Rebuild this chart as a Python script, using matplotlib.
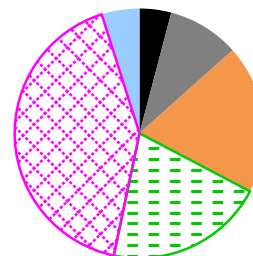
import matplotlib
matplotlib.use("Agg")
import matplotlib.pyplot as plt
import numpy as np

# slice shares (percent), clockwise from 12 o'clock
labels = ['black', 'gray', 'orange', 'green', 'magenta', 'lightblue']
shares = [4.1, 9.3, 19.3, 20.6, 41.8, 4.9]
colors = ['#000000', '#808080', '#f5974a', 'none', 'none', '#99ccff']
edges = ['none', 'none', 'none', '#00cc00', '#ff00ff', 'none']

plt.rcParams['lines.scale_dashes'] = False

W, H, DPI = 253, 256, 72
cx, cy, r = 139.5, 133.3, 124.8   # pie centre / radius in pixels

fig = plt.figure(figsize=(W / DPI, H / DPI), dpi=DPI)
ax = fig.add_axes([0, 0, 1, 1])

wedges, _ = ax.pie(shares, colors=colors, startangle=90, counterclock=False,
                   wedgeprops={'linewidth': 2.5})
for w, ec in zip(wedges, edges):
    w.set_edgecolor(ec)
    if ec == 'none':
        w.set_linewidth(0)

# dashed texture for the green slice
green = wedges[3]
row0, step, per = 148.3, 10.74, 21.3
for k in range(12):
    y = (cy - (row0 + step * k)) / r
    start_px = 144 - 7 * per - (per / 2 if k % 2 else 0)
    x0 = (start_px - cx) / r
    ln, = ax.plot([x0, 1.2], [y, y], color='#00cc00', lw=3,
                  linestyle=(0, (per / 2, per / 2)))
    ln.set_dash_capstyle('butt')
    ln.set_clip_path(green)
    ln.set_zorder(1.5)

# dotted diamond lattice for the magenta slice
mag = wedges[4]
sp = 22.0 / r
X0, Y0 = (23.3 - cx) / r, (cy - 113.3) / r     # one lattice crossing
dot_per = (sp / 2) * r * np.sqrt(2) / 3
dot_on = 3.0
xs = np.array([-1.3, 1.3])
d0 = (X0 + 1.3) * r * np.sqrt(2)
off = (dot_on / 2 - d0) % dot_per
for k in range(-30, 31):
    for sgn, c in ((1, Y0 - X0 + k * sp), (-1, Y0 + X0 + k * sp)):
        ln, = ax.plot(xs, sgn * xs + c, color='#ff00ff', lw=2.6,
                      linestyle=(off, (dot_on, dot_per - dot_on)))
        ln.set_dash_capstyle('butt')
        ln.set_clip_path(mag)
        ln.set_zorder(1.5)

green.set_zorder(2)
mag.set_zorder(2)

ax.set_aspect('auto')
ax.set_xlim(-cx / r, (W - cx) / r)
ax.set_ylim(-(H - cy) / r, cy / r)
ax.axis('off')

fig.savefig('out.png', dpi=DPI)
